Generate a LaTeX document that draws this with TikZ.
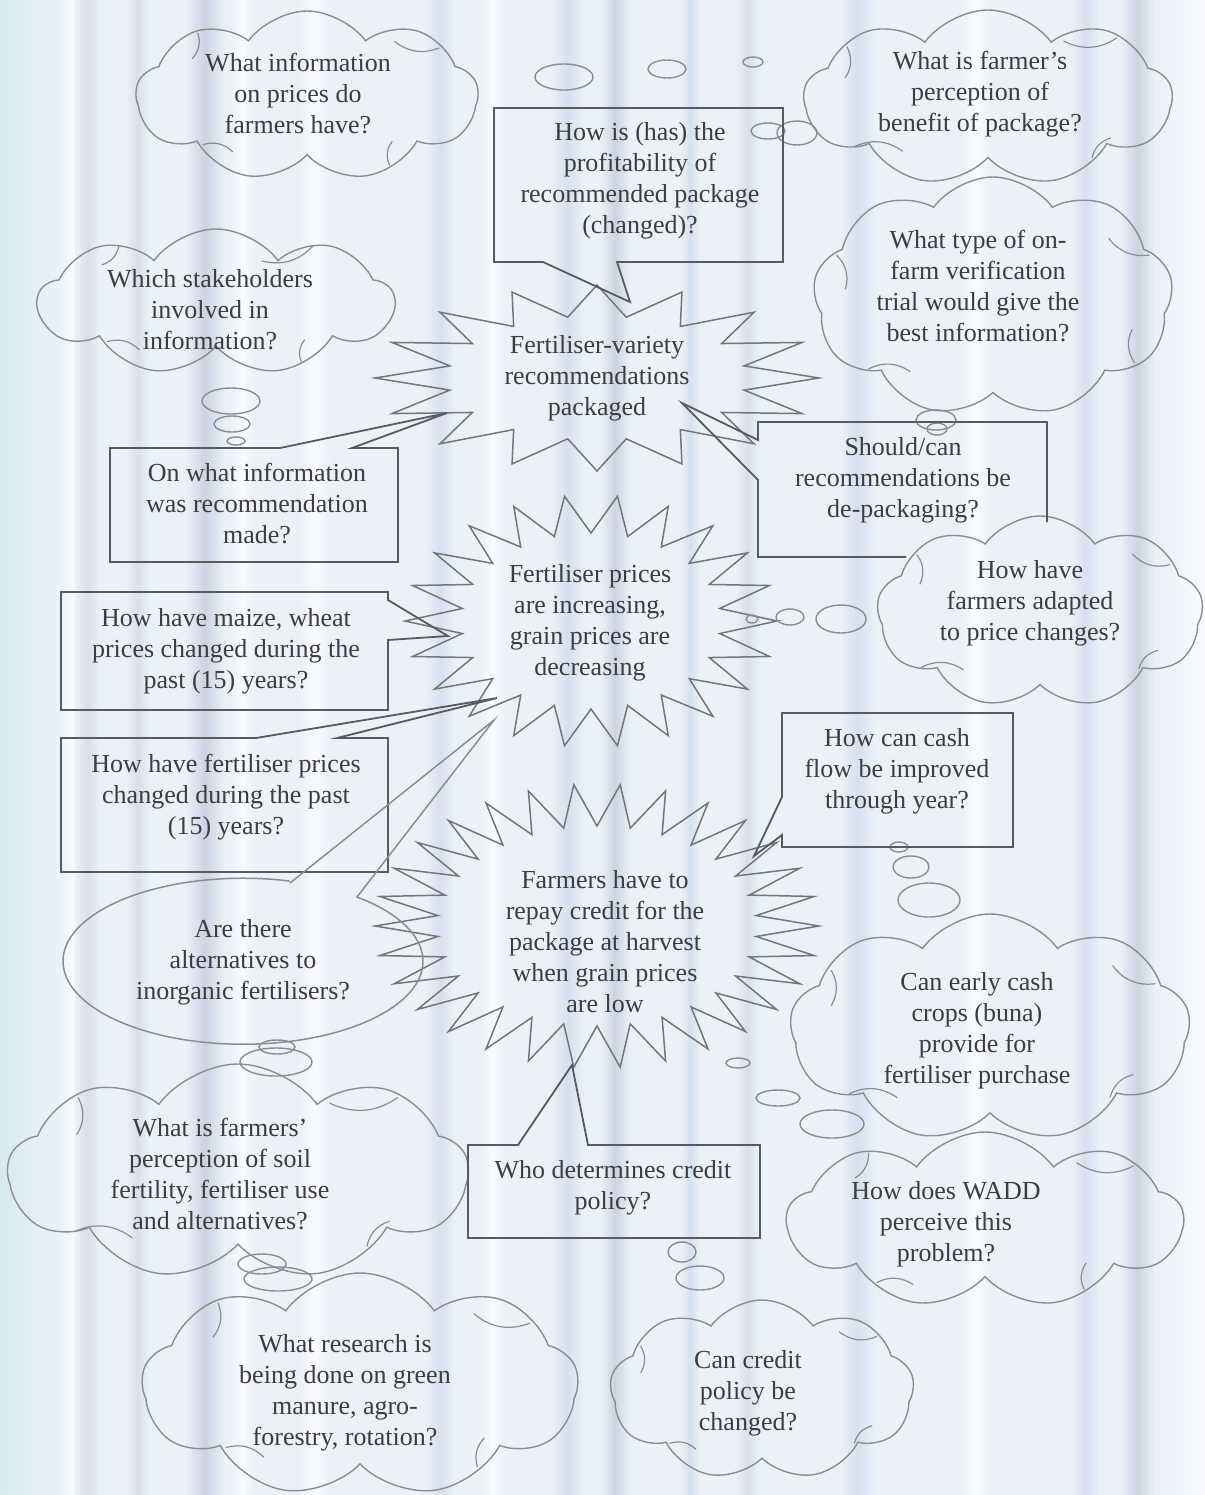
\documentclass[tikz,border=0pt]{standalone}
\usepackage{fontspec}
\setmainfont{Liberation Serif}
\usetikzlibrary{shapes.symbols, shapes.geometric, calc}

\definecolor{bg}{RGB}{236,241,248}
\definecolor{ink}{RGB}{60,60,66}
\definecolor{boxline}{RGB}{88,90,96}
\definecolor{burstline}{RGB}{115,117,125}
\definecolor{cloudline}{RGB}{138,140,148}
\definecolor{sA}{RGB}{214,224,238}
\definecolor{sB}{RGB}{249,250,253}
\definecolor{sC}{RGB}{204,211,226}
\definecolor{sD}{RGB}{214,234,242}

% short inner strokes that mark where the puffs of a cloud meet
\newcommand{\puffmarks}[2]{%
  \foreach \a [evaluate=\a as \b using int(\a+12)] in {#2}
    \draw[cloudline, line width=0.6pt]
      ($(#1.center)!0.97!(#1.\a)$) to[bend left=30] ($(#1.center)!0.82!(#1.\b)$);
}

\begin{document}
\begin{tikzpicture}[x=0.5pt, y=-0.5pt,
  qtext/.style={align=center, text=ink, font=\fontsize{13}{15.5}\selectfont, inner sep=0pt},
  cloudq/.style={cloud, cloud puffs=9, cloud puff arc=108, cloud ignores aspect,
    draw=cloudline, line width=0.7pt, inner sep=0pt},
  callout/.style={draw=boxline, line width=0.9pt, line join=miter},
  burst/.style={draw=burstline, line width=0.75pt},
  bubble/.style={draw=cloudline, line width=0.7pt},
  oval/.style={draw=cloudline, line width=0.75pt},
]
\useasboundingbox (0,0) rectangle (1205,1495);

% paper with vertical streaks
\fill[bg] (0,0) rectangle (1205,1495);
\fill[left color=sD, right color=bg] (0,0) rectangle (60,1495);
\foreach \xa/\xb/\c in {60/85/sB, 75/100/sA, 125/150/sA, 185/225/sC, 230/255/sB,
    300/330/sB, 425/455/sA, 480/505/sB, 550/585/sA, 600/630/sC, 680/700/sA,
    735/760/sA, 840/875/sA, 960/990/sB, 1070/1100/sA, 1120/1155/sC}
  \fill[left color=bg, right color=bg, middle color=\c] (\xa,0) rectangle (\xb,1495);
\fill[left color=bg, right color=sB] (1160,0) rectangle (1205,1495);

% ---------- starbursts ----------
\draw[burst] plot[variable=\k, samples=33, domain=0:32]
  ({597+(222-72*mod(round(\k),2))*cos(\k*11.25)},
   {378+(93-31*mod(round(\k),2))*sin(\k*11.25)}) -- cycle;
\draw[burst] plot[variable=\k, samples=45, domain=0:44]
  ({591+(186-56*mod(round(\k),2))*cos(\k*8.181818)},
   {621+(126-38*mod(round(\k),2))*sin(\k*8.181818)}) -- cycle;
\draw[burst] plot[variable=\k, samples=61, domain=0:60]
  ({597+(222-62*mod(round(\k),2))*cos(\k*6)},
   {926+(142-42*mod(round(\k),2))*sin(\k*6)}) -- cycle;

\node[qtext] (b1) at (597,378) {Fertiliser-variety\\recommendations\\packaged};
\node[qtext] (b2) at (590,623) {Fertiliser prices\\are increasing,\\grain prices are\\decreasing};
\node[qtext] (b3) at (605,942) {Farmers have to\\repay credit for the\\package at harvest\\when grain prices\\are low};

% ---------- clouds ----------
\node[cloudq, minimum width=171pt, minimum height=85pt] (c1) at (307,96) {};
\node[cloudq, minimum width=184pt, minimum height=88pt] (c2) at (988,98) {};
\node[cloudq, minimum width=180pt, minimum height=120pt] (c3) at (993,297) {};
\node[cloudq, minimum width=178pt, minimum height=73pt] (c4) at (216,302) {};
\node[cloudq, minimum width=163pt, minimum height=96pt] (c5) at (1040,612) {};
\node[cloudq, minimum width=200pt, minimum height=114pt] (c6) at (990,1028) {};
\node[cloudq, minimum width=198pt, minimum height=88pt] (c7) at (985,1220) {};
\node[cloudq, minimum width=230pt, minimum height=108pt] (c8) at (238,1172) {};
\node[cloudq, minimum width=218pt, minimum height=112pt] (c9) at (360,1385) {};
\node[cloudq, minimum width=152pt, minimum height=90pt] (c10) at (762,1390) {};

\puffmarks{c1}{20,150,205,320}
\puffmarks{c2}{25,160,200,330}
\puffmarks{c3}{15,165,210,335}
\puffmarks{c4}{30,150,200,325}
\puffmarks{c5}{20,155,205,330}
\puffmarks{c6}{15,160,205,330}
\puffmarks{c7}{20,150,210,325}
\puffmarks{c8}{25,155,200,330}
\puffmarks{c9}{20,150,205,325}
\puffmarks{c10}{25,160,210,330}

% ---------- thought bubbles ----------
\foreach \bx/\by/\rx/\ry in {564/77/29/13, 667/69/19/9, 753/62/10/5,
    768/131/17/8, 797/133/20/12,
    231/401/29/13, 232/424/18/8, 236/441/9/4,
    936/420/20/10, 937/429/10/6,
    752/619/6/4, 790/617/14/8, 841/619/25/14,
    899/847/9/5, 911/867/18/11, 929/900/31/17,
    738/1063/12/5, 778/1098/22/8, 832/1124/32/14,
    277/1047/18/7, 276/1062/36/14,
    262/1264/24/10, 278/1279/34/12,
    682/1252/14/10, 700/1278/24/12}
  \draw[bubble] (\bx,\by) ellipse [x radius=\rx, y radius=\ry];

% ---------- callout boxes ----------
\coordinate (tipP) at (630,302);
\coordinate (tipO) at (447,413);
\coordinate (tipS) at (682,403);
\coordinate (tipM) at (448,636);
\coordinate (tipF) at (497,698);
\coordinate (tipA) at (494,720);
\coordinate (tipC) at (754,856);
\coordinate (tipW) at (572,1065);

\draw[callout] (494,108) -- (783,108) -- (783,262) -- (617,262) -- (tipP)
  -- (543,262) -- (494,262) -- cycle;
\draw[callout] (110,448) -- (280,448) -- (tipO) -- (352,448) -- (398,448)
  -- (398,562) -- (110,562) -- cycle;
\draw[callout] (1047,522) -- (1047,422) -- (758,422) -- (758,440) -- (tipS)
  -- (758,480) -- (758,557) -- (906,557);
\draw[callout] (61,592) -- (388,592) -- (388,600) -- (tipM) -- (388,640)
  -- (388,710) -- (61,710) -- cycle;
\draw[callout] (61,738) -- (256,738) -- (tipF) -- (337,738) -- (388,738)
  -- (388,872) -- (61,872) -- cycle;
\draw[callout] (782,713) -- (1013,713) -- (1013,847) -- (782,847) -- (782,835)
  -- (tipC) -- (782,797) -- cycle;
\draw[callout] (468,1145) -- (518,1145) -- (tipW) -- (588,1145) -- (760,1145)
  -- (760,1238) -- (468,1238) -- cycle;

% oval callout
\draw[oval] (290,883) -- (tipA) -- (357,897)
  arc[start angle=-50.7, end angle=285, x radius=180, y radius=83];

% ---------- texts ----------
\node[qtext] (t1) at (298,94) {What information\\on prices do\\farmers have?};
\node[qtext] (t2) at (980,94) {What is farmer’s\\perception of\\benefit of package?};
\node[qtext] (t3) at (640,181) {How is (has) the\\profitability of\\recommended package\\(changed)?};
\node[qtext] (t4) at (978,286) {What type of on-\\farm verification\\trial would give the\\best information?};
\node[qtext] (t5) at (210,310) {Which stakeholders\\involved in\\information?};
\node[qtext] (t7) at (257,504) {On what information\\was recommendation\\made?};
\node[qtext] (t8) at (903,480) {Should/can\\recommendations be\\de-packaging?};
\node[qtext] (t10) at (1030,603) {How have\\farmers adapted\\to price changes?};
\node[qtext] (t11) at (226,651) {How have maize, wheat\\prices changed during the\\past (15) years?};
\node[qtext] (t12) at (226,797) {How have fertiliser prices\\changed during the past\\(15) years?};
\node[qtext] (t13) at (897,771) {How can cash\\flow be improved\\through year?};
\node[qtext] (t15) at (243,962) {Are there\\alternatives to\\inorganic fertilisers?};
\node[qtext] (t16) at (977,1031) {Can early cash\\crops (buna)\\provide for\\fertiliser purchase};
\node[qtext] (t17) at (220,1174) {What is farmers’\\perception of soil\\fertility, fertiliser use\\and alternatives?};
\node[qtext] (t18) at (613,1188) {Who determines credit\\policy?};
\node[qtext] (t19) at (946,1224) {How does WADD\\perceive this\\problem?};
\node[qtext] (t20) at (345,1393) {What research is\\being done on green\\manure, agro-\\forestry, rotation?};
\node[qtext] (t21) at (748,1393) {Can credit\\policy be\\changed?};
\end{tikzpicture}
\end{document}
